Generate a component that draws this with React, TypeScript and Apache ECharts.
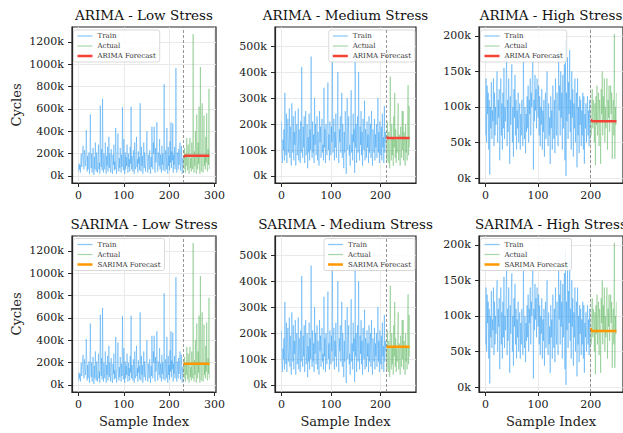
import React, { useEffect, useRef } from 'react';
import * as echarts from 'echarts';

// ---------------- data (values in thousands of cycles) ----------------
const lowTrain = [
  40, 110, 60, 100, 30, 150, 200, 80, 140, 210, 270, 120, 60, 230, 180, 90, 150, 410, 220, 40,
  180, 60, 130, 210, 20, 90, 550, 160, 70, 200, 30, 120, 250, 80, 10, 170, 60, 300, 140, 40,
  210, 90, 30, 160, 280, 60, 120, 20, 630, 180, 80, 240, 50, 690, 150, 30, 200, 100, 60, 300,
  120, 20, 180, 90, 260, 40, 150, 350, 70, 200, 110, 30, 240, 160, 60, 20, 190, 100, 280, 50,
  130, 60, 430, 170, 20, 90, 220, 380, 110, 40, 160, 70, 250, 130, 30, 190, 80, 615, 140, 50,
  330, 100, 20, 210, 60, 170, 90, 280, 130, 30, 200, 80, 150, 40, 260, 110, 620, 60, 180, 90,
  40, 230, 140, 20, 300, 100, 60, 190, 350, 80, 150, 30, 220, 110, 170, 50, 650, 120, 40, 260,
  90, 180, 20, 140, 300, 70, 210, 110, 40, 160, 250, 400, 80, 30, 190, 120, 60, 230, 100, 20,
  170, 80, 440, 140, 60, 300, 200, 440, 90, 30, 250, 120, 180, 480, 70, 40, 210, 150, 90, 330,
  60, 190, 120, 30, 270, 100, 200, 50, 150, 820, 110, 40, 230, 170, 60, 430, 130, 20, 260, 90,
  180, 50, 310, 120, 480, 70, 220, 140, 470, 30, 190, 100, 260, 60, 150, 965, 80, 30, 210, 140,
  60, 240, 100, 180, 300, 50, 130, 270, 90, 20, 160, 110,
];
const lowActual = [
  180, 60, 250, 120, 30, 200, 90, 340, 150, 50, 280, 110, 20, 230, 340, 70, 160, 40, 300, 120,
  60, 1270, 150, 30, 220, 90, 400, 130, 20, 550, 180, 60, 300, 110, 620, 80, 20, 975, 150, 40,
  260, 650, 100, 30, 200, 540, 90, 180, 60, 350, 120, 560, 70, 40, 240, 100, 780, 60,
];
const medTrain = [
  210, 90, 50, 140, 100, 180, 60, 320, 120, 80, 240, 50, 160, 220, 90, 130, 260, 70, 190, 110,
  40, 280, 150, 90, 230, 60, 170, 120, 250, 40, 140, 200, 80, 110, 260, 60, 180, 130, 50, 210,
  90, 420, 140, 70, 190, 110, 230, 50, 160, 250, 80, 120, 200, 30, 150, 90, 240, 60, 180, 100,
  460, 130, 70, 210, 90, 160, 50, 300, 120, 200, 80, 140, 230, 60, 170, 100, 40, 250, 130, 190,
  70, 150, 220, 90, 120, 60, 340, 110, 180, 50, 200, 140, 80, 230, 360, 100, 160, 60, 210, 120,
  80, 190, 130, 475, 90, 150, 220, 60, 170, 110, 240, 70, 140, 190, 400, 100, 50, 180, 130, 230,
  90, 160, 320, 70, 200, 120, 30, 170, 90, 250, 140, 8, 190, 300, 100, 150, 230, 80, 120, 40,
  210, 330, 90, 160, 60, 240, 130, 180, 12, 460, 110, 200, 50, 160, 230, 90, 400, 140, 60, 190,
  120, 250, 80, 170, 40, 220, 130, 100, 290, 60, 180, 140, 70, 210, 110, 160, 50, 230, 90, 150,
  200, 70, 250, 120, 40, 180, 140, 90, 220, 60, 160, 110, 200, 70, 130, 300, 90, 170, 50, 210,
  120, 80, 190, 60, 240, 110, 150, 50, 270, 90, 170, 130,
];
const medActual = [
  140, 60, 210, 100, 50, 170, 90, 30, 383, 120, 60, 200, 80, 150, 40, 230, 110, 320, 70, 180,
  50, 140, 90, 210, 280, 60, 160, 100, 40, 190, 130, 70, 250, 100, 250, 60, 170, 120, 40, 200,
  90, 150, 60, 230, 350, 80, 270, 110,
];
const highTrain = [
  60, 140, 50, 130, 90, 120, 40, 110, 5, 100, 70, 135, 55, 95, 80, 140, 45, 120, 60, 100,
  75, 130, 150, 50, 110, 85, 125, 25, 90, 140, 60, 105, 40, 120, 70, 155, 55, 100, 80, 130,
  170, 45, 110, 65, 140, 90, 20, 115, 75, 135, 160, 50, 100, 30, 125, 85, 145, 60, 110, 40,
  95, 70, 120, 50, 85, 105, 40, 90, 60, 110, 75, 45, 165, 80, 55, 100, 35, 90, 65, 115,
  70, 130, 50, 110, 90, 140, 60, 120, 100, 150, 165, 12, 110, 80, 145, 95, 125, 70, 140, 105,
  85, 130, 60, 115, 45, 100, 75, 125, 40, 95, 65, 110, 30, 90, 120, 55, 100, 150, 70, 45,
  105, 60, 85, 20, 115, 70, 95, 40, 130, 80, 55, 110, 35, 140, 90, 60, 120, 75, 45, 180,
  95, 130, 60, 150, 85, 120, 40, 145, 70, 110, 160, 25, 193, 3, 120, 80, 170, 55, 135, 90,
  180, 65, 110, 40, 150, 85, 125, 30, 105, 70, 140, 50, 95, 120, 15, 140, 60, 100, 35, 115,
  75, 110, 45, 95, 60, 120, 40, 115, 20, 90, 70, 105, 50, 85, 115, 60, 95, 45, 110, 55,
];
const highActual = [
  80, 60, 100, 125, 70, 110, 90, 50, 105, 18, 115, 75, 130, 60, 95, 120, 45, 110, 85, 20,
  125, 90, 150, 60, 115, 80, 140, 50, 100, 70, 120, 140, 40, 110, 85, 130, 65, 105, 130, 90,
  120, 27, 95, 110, 60, 203, 27, 100, 75, 120,
];

// forecasts: sample index / value pairs
const arimaLowIdx = [232, 234, 289];
const arimaLowVal = [168, 180, 180];
const sarimaLowIdx = [232, 234, 289];
const sarimaLowVal = [183, 190, 190];
const arimaMedIdx = [212, 214, 259];
const arimaMedVal = [152, 146, 146];
const sarimaMedIdx = [212, 259];
const sarimaMedVal = [147, 147];
const arimaHighIdx = [200, 203, 249];
const arimaHighVal = [82, 80, 80];
const sarimaHighIdx = [200, 202, 205, 249];
const sarimaHighVal = [83, 78, 79, 79];

const lowXTicks = [0, 100, 200, 300];
const otherXTicks = [0, 100, 200];
const lowYTicks = [0, 200, 400, 600, 800, 1000, 1200];
const medYTicks = [0, 100, 200, 300, 400, 500];
const highYTicks = [0, 50, 100, 150, 200];

// ---------------- layout / style ----------------
const FONT = 'DejaVu Serif';
const TRAIN_COLOR = 'rgba(33,150,243,0.55)';
const ACTUAL_COLOR = 'rgba(76,175,80,0.5)';
const ARIMA_COLOR = '#f44336';
const SARIMA_COLOR = '#ff9800';
const colLeft = [72, 275, 479];
const colWidth = [144, 141, 144];
const rowTop = [27, 236];
const plotH = 156;
const titleY = [15, 223.5];
const legendTop = [30, 238.5];

type Panel = {
  title: string; row: number; col: number;
  train: number[]; actual: number[];
  fcIdx: number[]; fcVal: number[]; fcName: string; fcColor: string;
  xMin: number; xMax: number; xTicks: number[];
  yMin: number; yMax: number; yTicks: number[]; ySplit: number;
};

const stress = [
  { name: 'Low', train: lowTrain, actual: lowActual, xMin: -14.5, xMax: 303.5, xTicks: lowXTicks, yMin: -63, yMax: 1333, yTicks: lowYTicks, ySplit: 7 },
  { name: 'Medium', train: medTrain, actual: medActual, xMin: -13, xMax: 272, xTicks: otherXTicks, yMin: -27, yMax: 574, yTicks: medYTicks, ySplit: 6 },
  { name: 'High', train: highTrain, actual: highActual, xMin: -12.5, xMax: 261.5, xTicks: otherXTicks, yMin: -7, yMax: 212.5, yTicks: highYTicks, ySplit: 4 },
];
const fc = [
  [[arimaLowIdx, arimaLowVal], [arimaMedIdx, arimaMedVal], [arimaHighIdx, arimaHighVal]],
  [[sarimaLowIdx, sarimaLowVal], [sarimaMedIdx, sarimaMedVal], [sarimaHighIdx, sarimaHighVal]],
];
const models = ['ARIMA', 'SARIMA'];

const panels: Panel[] = [];
for (let r = 0; r < 2; r++) {
  for (let c = 0; c < 3; c++) {
    const s = stress[c];
    panels.push({
      title: `${models[r]} - ${s.name} Stress`, row: r, col: c,
      train: s.train, actual: s.actual,
      fcIdx: fc[r][c][0], fcVal: fc[r][c][1],
      fcName: `${models[r]} Forecast`, fcColor: r === 0 ? ARIMA_COLOR : SARIMA_COLOR,
      xMin: s.xMin, xMax: s.xMax, xTicks: s.xTicks,
      yMin: s.yMin, yMax: s.yMax, yTicks: s.yTicks, ySplit: s.ySplit,
    });
  }
}

function lineIcon(w: number) {
  return `path://M0,0 L15,0 L15,${w} L0,${w} Z`;
}

function buildOption() {
  const grid: any[] = [];
  const xAxis: any[] = [];
  const yAxis: any[] = [];
  const series: any[] = [];
  const legend: any[] = [];
  const graphic: any[] = [];

  panels.forEach((p, i) => {
    const left = colLeft[p.col];
    const width = colWidth[p.col];
    const top = rowTop[p.row];
    grid.push({
      left, top, width, height: plotH,
      show: true, borderColor: '#262626', borderWidth: 1.2, backgroundColor: 'transparent',
      containLabel: false,
    });
    xAxis.push({
      type: 'value', gridIndex: i, min: p.xMin, max: p.xMax, splitNumber: 3,
      axisLine: { show: true, onZero: false, lineStyle: { color: '#262626', width: 1.2 } },
      axisTick: { show: true, length: 4, customValues: p.xTicks, lineStyle: { color: '#262626', width: 1 } },
      axisLabel: {
        customValues: p.xTicks, color: '#222', fontFamily: FONT, fontSize: 11, margin: 7,
        formatter: (v: number) => (Math.abs(v % 100) < 1e-6 ? String(v) : ''),
      },
      splitLine: { show: true, lineStyle: { color: '#e4e4e4', width: 0.8 } },
      name: p.row === 1 ? 'Sample Index' : '',
      nameLocation: 'middle', nameGap: 23,
      nameTextStyle: { fontFamily: FONT, fontSize: 13, color: '#222' },
    });
    const step = p.yTicks[1] - p.yTicks[0];
    yAxis.push({
      type: 'value', gridIndex: i, min: p.yMin, max: p.yMax, splitNumber: p.ySplit,
      axisLine: { show: true, onZero: false, lineStyle: { color: '#262626', width: 1.2 } },
      axisTick: { show: true, length: 4, customValues: p.yTicks, lineStyle: { color: '#262626', width: 1 } },
      axisLabel: {
        customValues: p.yTicks, color: '#222', fontFamily: FONT, fontSize: 11, margin: 8,
        formatter: (v: number) => (Math.abs(v % step) < 1e-6 && v >= 0 ? `${v}k` : ''),
      },
      splitLine: { show: true, lineStyle: { color: '#e4e4e4', width: 0.8 } },
      name: p.col === 0 ? 'Cycles' : '',
      nameLocation: 'middle', nameGap: 49,
      nameTextStyle: { fontFamily: FONT, fontSize: 13, color: '#222' },
    });

    const nTrain = p.train.length;
    series.push({
      name: 'Train', type: 'line', xAxisIndex: i, yAxisIndex: i,
      data: p.train.map((v, k) => [k, v]),
      symbol: 'none', lineStyle: { color: TRAIN_COLOR, width: 0.75 },
      itemStyle: { color: TRAIN_COLOR }, z: 2,
    });
    series.push({
      name: 'Actual', type: 'line', xAxisIndex: i, yAxisIndex: i,
      data: p.actual.map((v, k) => [nTrain + k, v]),
      symbol: 'none', lineStyle: { color: ACTUAL_COLOR, width: 0.75 },
      itemStyle: { color: ACTUAL_COLOR }, z: 2,
    });
    series.push({
      name: p.fcName, type: 'line', xAxisIndex: i, yAxisIndex: i,
      data: p.fcIdx.map((x, k) => [x, p.fcVal[k]]),
      symbol: 'none', lineStyle: { color: p.fcColor, width: 2.5 },
      itemStyle: { color: p.fcColor }, z: 3,
      markLine: {
        silent: true, symbol: ['none', 'none'], label: { show: false },
        lineStyle: { type: [3, 2], color: '#8a8a8a', width: 0.9 },
        data: [{ xAxis: nTrain }],
      },
    });

    const lg: any = {
      orient: 'vertical', top: legendTop[p.row],
      itemWidth: 15, itemHeight: 8, itemGap: 2,
      padding: [2, 4, 2, 4],
      borderColor: '#cfcfcf', borderWidth: 0.8, borderRadius: 2,
      backgroundColor: 'rgba(255,255,255,0.85)',
      textStyle: { fontFamily: FONT, fontSize: 7, color: '#333', lineHeight: 8 },
      selectedMode: false,
      data: [
        { name: 'Train', icon: lineIcon(1.2) },
        { name: 'Actual', icon: lineIcon(1.2) },
        { name: p.fcName, icon: lineIcon(2.5) },
      ],
    };
    if (p.col === 1) lg.right = 623 - (left + width) + 1;
    else lg.left = left + 1.5;
    legend.push(lg);

    graphic.push({
      type: 'text', x: left + width / 2, y: titleY[p.row],
      style: {
        text: p.title, fontFamily: FONT, fontSize: 13.5, fill: '#111',
        align: 'center', verticalAlign: 'middle',
      },
    });
  });

  return {
    animation: false,
    backgroundColor: '#ffffff',
    grid, xAxis, yAxis, series, legend, graphic,
  };
}

export default function App() {
  const ref = useRef<HTMLDivElement>(null);
  useEffect(() => {
    const chart = echarts.init(ref.current!, null, { renderer: 'svg' });
    chart.setOption(buildOption() as any);
    return () => chart.dispose();
  }, []);
  return (
    <div
      ref={ref}
      style={{ position: 'absolute', left: 0, top: 0, width: 623, height: 433, background: '#fff' }}
    />
  );
}
